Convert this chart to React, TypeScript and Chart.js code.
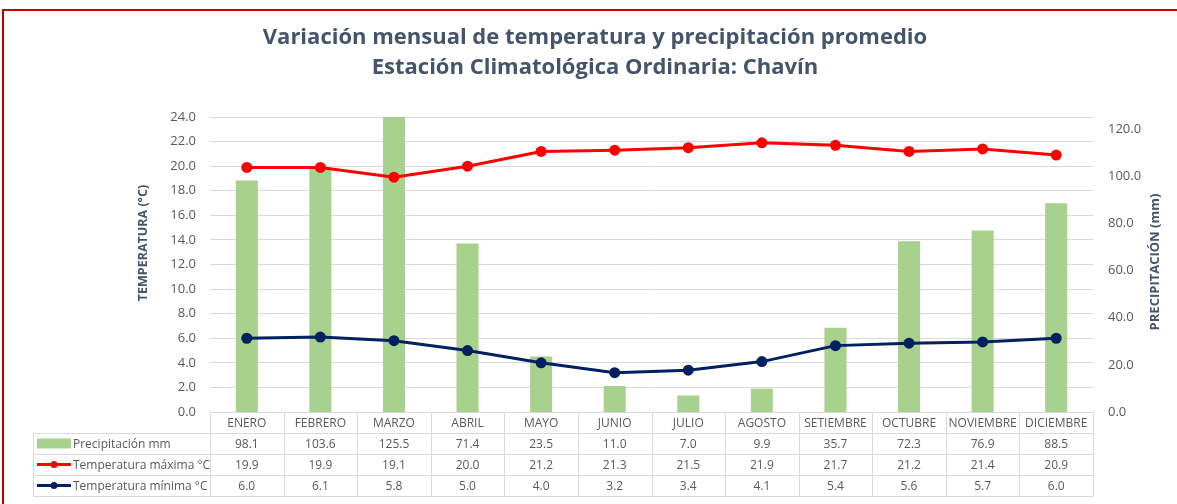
import React, { useEffect, useRef } from "react";
import { Chart, registerables } from "chart.js";

Chart.register(...registerables);

const months = ["ENERO", "FEBRERO", "MARZO", "ABRIL", "MAYO", "JUNIO", "JULIO", "AGOSTO", "SETIEMBRE", "OCTUBRE", "NOVIEMBRE", "DICIEMBRE"];
const precipitacion = [98.1, 103.6, 125.5, 71.4, 23.5, 11.0, 7.0, 9.9, 35.7, 72.3, 76.9, 88.5];
const tempMax = [19.9, 19.9, 19.1, 20.0, 21.2, 21.3, 21.5, 21.9, 21.7, 21.2, 21.4, 20.9];
const tempMin = [6.0, 6.1, 5.8, 5.0, 4.0, 3.2, 3.4, 4.1, 5.4, 5.6, 5.7, 6.0];
const tempTicks = [0, 2, 4, 6, 8, 10, 12, 14, 16, 18, 20, 22, 24];
const precipTicks = [0, 20, 40, 60, 80, 100, 120];
const seriesNames = ["Precipitación mm", "Temperatura máxima °C", "Temperatura mínima °C"];
const titleLines = ["Variación mensual de temperatura y precipitación promedio", "Estación Climatológica Ordinaria: Chavín"];
const axisTitles = ["TEMPERATURA (°C)", "PRECIPITACIÓN (mm)"];

const FONT = "'Open Sans', sans-serif";
const GREEN = "#a9d18e";
const RED = "#ff0000";
const NAVY = "#002060";
const TEXT = "#595959";
const TITLE = "#44546a";
const GRID = "#d9d9d9";

const tablePlugin = {
  id: "dataTable",
  beforeDraw(chart: any) {
    const ctx = chart.ctx;
    ctx.save();
    ctx.fillStyle = "#ffffff";
    ctx.fillRect(0, 0, chart.width, chart.height);
    ctx.restore();
  },
  afterDraw(chart: any) {
    const ctx = chart.ctx;
    const area = chart.chartArea;
    const left = area.left;
    const right = area.right;
    const n = months.length;
    const colW = (right - left) / n;
    const top = area.bottom;
    const rowH = 21;
    const rowTops = [top, top + 21, top + 42, top + 63];
    const tableLeft = 33;
    const bottom = top + 84;

    ctx.save();
    // chart title
    ctx.fillStyle = TITLE;
    ctx.textAlign = "center";
    ctx.textBaseline = "middle";
    ctx.font = `bold 22px ${FONT}`;
    ctx.fillText(titleLines[0], 595, 38);
    ctx.fillText(titleLines[1], 595, 68);

    // axis titles
    ctx.save();
    ctx.translate(143, 243);
    ctx.rotate(-Math.PI / 2);
    ctx.font = `bold 12.5px ${FONT}`;
    ctx.fillText(axisTitles[0], 0, 0);
    ctx.restore();
    ctx.save();
    ctx.translate(1155, 262);
    ctx.rotate(-Math.PI / 2);
    ctx.font = `bold 13px ${FONT}`;
    ctx.fillText(axisTitles[1], 0, 0);
    ctx.restore();

    ctx.strokeStyle = GRID;
    ctx.lineWidth = 1;
    ctx.beginPath();
    ctx.moveTo(left, Math.round(top) + 0.5);
    ctx.lineTo(right, Math.round(top) + 0.5);
    for (let r = 1; r <= 4; r++) {
      const y = Math.round(top + r * rowH) + 0.5;
      ctx.moveTo(tableLeft, y);
      ctx.lineTo(right, y);
    }
    for (let c = 0; c <= n; c++) {
      const x = Math.round(left + c * colW) + 0.5;
      ctx.moveTo(x, top);
      ctx.lineTo(x, bottom);
    }
    ctx.moveTo(tableLeft + 0.5, top + rowH);
    ctx.lineTo(tableLeft + 0.5, bottom);
    ctx.stroke();

    ctx.font = `12px ${FONT}`;
    ctx.fillStyle = TEXT;
    ctx.textAlign = "center";
    ctx.textBaseline = "middle";
    const xs = chart.scales.x;
    for (let c = 0; c < n; c++) {
      const cx = xs.getPixelForValue(c);
      ctx.fillText(months[c], cx, rowTops[0] + rowH / 2 + 1);
      ctx.fillText(precipitacion[c].toFixed(1), cx, rowTops[1] + rowH / 2 + 1);
      ctx.fillText(tempMax[c].toFixed(1), cx, rowTops[2] + rowH / 2 + 1);
      ctx.fillText(tempMin[c].toFixed(1), cx, rowTops[3] + rowH / 2 + 1);
    }

    const keyL = 37;
    const keyR = 71;
    const y1 = rowTops[1] + rowH / 2;
    ctx.fillStyle = GREEN;
    ctx.fillRect(keyL, y1 - 5, keyR - keyL, 10);
    const drawLineKey = (y: number, color: string) => {
      ctx.strokeStyle = color;
      ctx.lineWidth = 3;
      ctx.beginPath();
      ctx.moveTo(keyL, y);
      ctx.lineTo(keyR, y);
      ctx.stroke();
      ctx.fillStyle = color;
      ctx.beginPath();
      ctx.arc((keyL + keyR) / 2, y, 3.5, 0, Math.PI * 2);
      ctx.fill();
    };
    const y2 = rowTops[2] + rowH / 2;
    const y3 = rowTops[3] + rowH / 2;
    drawLineKey(y2, RED);
    drawLineKey(y3, NAVY);

    ctx.fillStyle = TEXT;
    ctx.textAlign = "left";
    ctx.fillText(seriesNames[0], keyR + 2, y1 + 1);
    ctx.fillText(seriesNames[1], keyR + 2, y2 + 1);
    ctx.fillText(seriesNames[2], keyR + 2, y3 + 1);

    // red frame
    ctx.strokeStyle = "#c00000";
    ctx.lineWidth = 2;
    ctx.beginPath();
    ctx.moveTo(3, chart.height + 5);
    ctx.lineTo(3, 10);
    ctx.lineTo(chart.width + 5, 10);
    ctx.stroke();
    ctx.restore();
  },
};

export default function App() {
  const ref = useRef<HTMLCanvasElement | null>(null);
  useEffect(() => {
    document.body.style.margin = "0";
    const canvas = ref.current;
    if (!canvas) return;
    const chart = new Chart(canvas, {
      type: "bar",
      data: {
        labels: months,
        datasets: [
          {
            type: "line",
            label: seriesNames[1],
            data: tempMax,
            yAxisID: "y",
            borderColor: RED,
            backgroundColor: RED,
            borderWidth: 3,
            pointRadius: 5.5,
            pointBackgroundColor: RED,
            pointBorderWidth: 0,
            order: 1,
          } as any,
          {
            type: "line",
            label: seriesNames[2],
            data: tempMin,
            yAxisID: "y",
            borderColor: NAVY,
            backgroundColor: NAVY,
            borderWidth: 3,
            pointRadius: 5.5,
            pointBackgroundColor: NAVY,
            pointBorderWidth: 0,
            order: 1,
          } as any,
          {
            type: "bar",
            label: seriesNames[0],
            data: precipitacion,
            yAxisID: "y1",
            backgroundColor: GREEN,
            barPercentage: 0.3,
            categoryPercentage: 1,
            order: 2,
          },
        ],
      },
      options: {
        responsive: false,
        animation: false,
        layout: { padding: { left: 133, right: 11, top: 117, bottom: 92 } },
        plugins: {
          legend: { display: false },
          tooltip: { enabled: false },
          title: { display: false },
        },
        scales: {
          x: {
            display: false,
            offset: true,
            grid: { display: false },
          },
          y: {
            position: "left",
            min: 0,
            max: 24,
            ticks: {
              color: TEXT,
              padding: 14,
              font: { family: FONT, size: 13 },
              callback: (v: any) => Number(v).toFixed(1),
            },
            afterBuildTicks: (s: any) => {
              s.ticks = tempTicks.map((v) => ({ value: v }));
            },
            grid: { color: GRID, drawTicks: false },
            border: { display: false },
            afterFit: (s: any) => {
              s.width = 77;
            },
          },
          y1: {
            position: "right",
            min: 0,
            max: 125,
            ticks: {
              color: TEXT,
              padding: 15,
              font: { family: FONT, size: 13 },
              callback: (v: any) => Number(v).toFixed(1),
            },
            afterBuildTicks: (s: any) => {
              s.ticks = precipTicks.map((v) => ({ value: v }));
            },
            grid: { display: false, drawTicks: false },
            border: { display: false },
            afterFit: (s: any) => {
              s.width = 73;
            },
          },
        },
      } as any,
      plugins: [tablePlugin],
    });
    return () => chart.destroy();
  }, []);
  return (
    <div style={{ width: 1177, height: 504, overflow: "hidden" }}>
      <canvas ref={ref} width={1177} height={504} style={{ display: "block", width: 1177, height: 504 }} />
    </div>
  );
}
